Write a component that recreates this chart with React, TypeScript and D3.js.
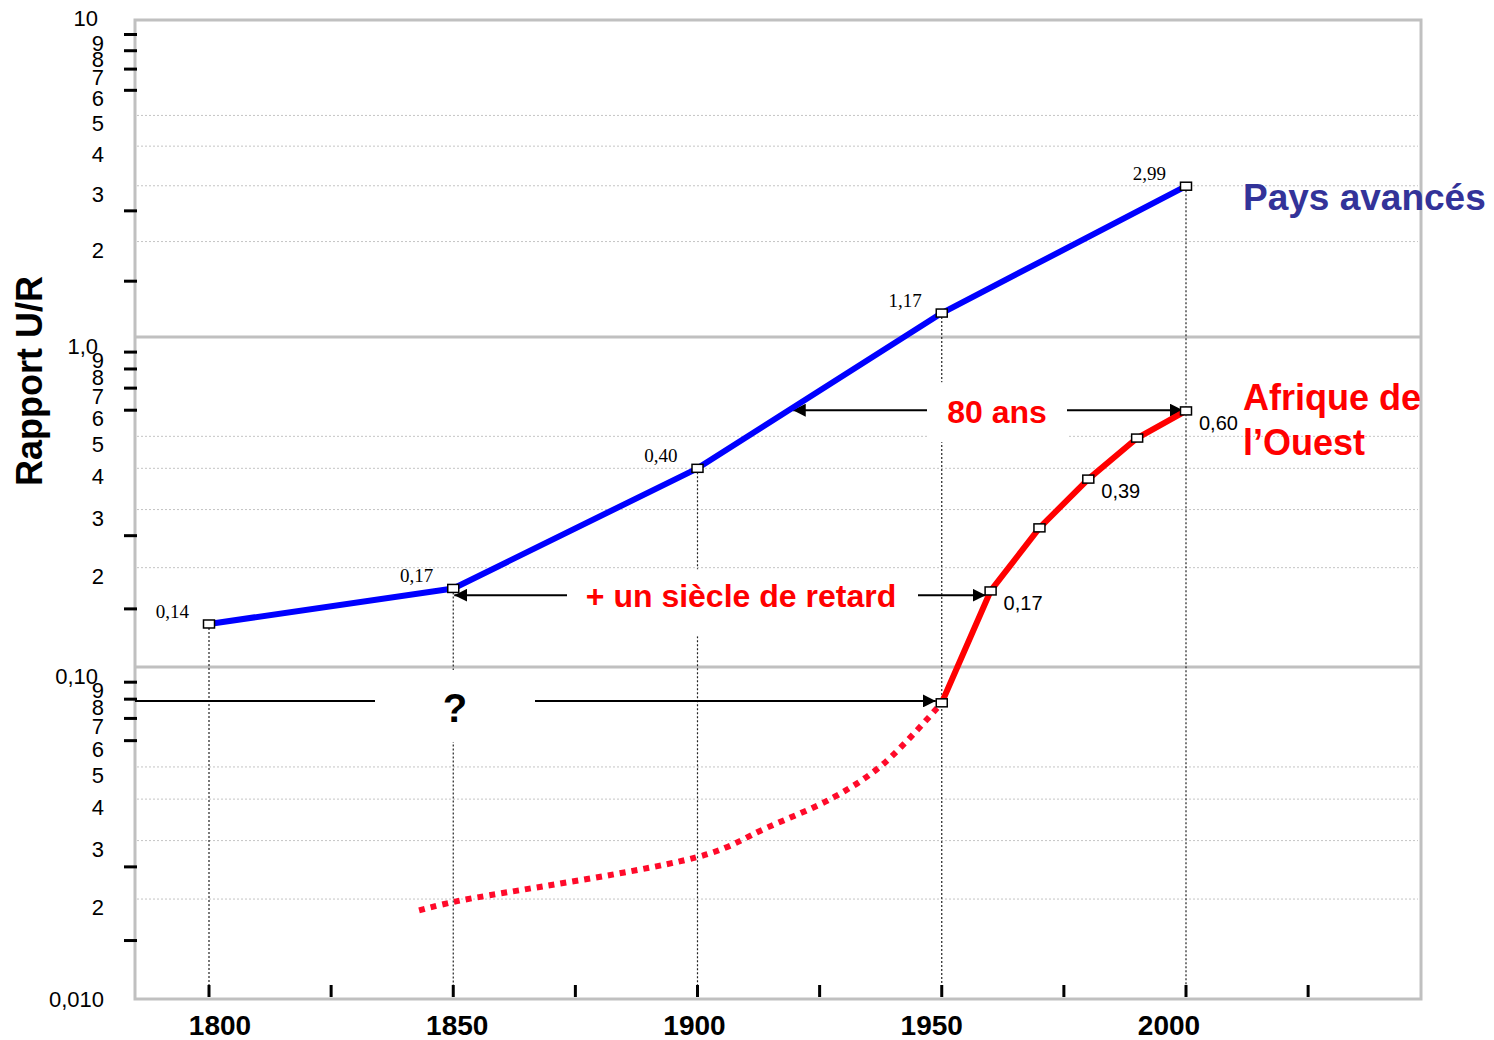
import React from 'react';
import * as d3 from 'd3';

const W = 1494;
const H = 1040;

// Pays avancés
const advYears = [1800, 1850, 1900, 1950, 2000];
const advValues = [0.135, 0.173, 0.4, 1.19, 2.99];
const advLabels = ['0,14', '0,17', '0,40', '1,17', '2,99'];

// Afrique de l'Ouest (observed)
const afrYears = [1950, 1960, 1970, 1980, 1990, 2000];
const afrValues = [0.078, 0.17, 0.264, 0.371, 0.494, 0.597];
const afrLabels = ['', '0,17', '', '0,39', '', '0,60'];

// Afrique de l'Ouest (estimated, dotted)
const afrEstYears = [1843, 1850, 1902, 1914, 1928, 1938, 1950];
const afrEstValues = [0.0185, 0.0196, 0.0273, 0.0327, 0.0406, 0.051, 0.078];

const xTickYears = [1800, 1825, 1850, 1875, 1900, 1925, 1950, 1975, 2000, 2025];
const xLabelYears = [1800, 1850, 1900, 1950, 2000];
const dropYears = [1800, 1850, 1900, 1950, 2000];

const decadeValues = [0.01, 0.1, 1, 10];
const decadeLabels = ['0,010', '0,10', '1,0', '10'];
const decadeBases = [0.01, 0.1, 1];
const minorDigits = [2, 3, 4, 5, 6, 7, 8, 9];
const gridDigits = [2, 3, 4, 5];
const tickMults = [1.5, 2.5, 6, 7, 8, 9];

const SANS = "'Liberation Sans', Arial, Helvetica, sans-serif";
const SERIF = "'Liberation Serif', 'Times New Roman', serif";

export default function App() {
  const left = 135;
  const right = 1421;
  const top = 20;
  const bottom = 999;

  const x = d3.scaleLinear().domain([1800, 2000]).range([209, 1186]);
  const xLab = d3.scaleLinear().domain([1800, 2000]).range([220, 1169]);
  const y = d3.scaleLog().domain([0.01, 0.1, 1, 10]).range([999, 667, 337, 20]);

  const line = d3
    .line<[number, number]>()
    .x((d) => x(d[0]))
    .y((d) => y(d[1]));
  const curve = d3
    .line<[number, number]>()
    .x((d) => x(d[0]))
    .y((d) => y(d[1]))
    .curve(d3.curveCatmullRom.alpha(0.5));

  const advPts: [number, number][] = advYears.map((yr, i) => [yr, advValues[i]]);
  const afrPts: [number, number][] = afrYears.map((yr, i) => [yr, afrValues[i]]);
  const estPts: [number, number][] = afrEstYears.map((yr, i) => [yr, afrEstValues[i]]);

  const advAt = (yr: number) => advValues[advYears.indexOf(yr)];

  // annotation arrows (in data units)
  const a80y = y(0.6);
  const a80x1 = x(1919.5);
  const a80x2 = x(2000) - 3;
  const asy = y(0.165);
  const asx1 = x(1850) + 1;
  const asx2 = x(1959);
  const aqy = y(0.079);
  const aqx2 = x(1950) - 6;

  const gridLines: number[] = [];
  decadeBases.forEach((b) => gridDigits.forEach((d) => gridLines.push(d * b)));
  const tickVals: number[] = [];
  decadeBases.forEach((b) => tickMults.forEach((m) => tickVals.push(m * b)));
  const minorLabels: { v: number; t: string }[] = [];
  decadeBases.forEach((b) => minorDigits.forEach((d) => minorLabels.push({ v: d * b, t: String(d) })));

  return (
    <div style={{ position: 'absolute', left: 0, top: 0 }}>
      <svg width={W} height={H} style={{ display: 'block', background: '#fff' }}>
        <defs>
          <marker
            id="ah"
            viewBox="0 0 10 10"
            refX="10"
            refY="5"
            markerWidth="13"
            markerHeight="13"
            markerUnits="userSpaceOnUse"
            orient="auto-start-reverse"
          >
            <path d="M0,0 L10,5 L0,10 z" fill="#000" />
          </marker>
        </defs>

        {/* dotted gridlines */}
        {gridLines.map((v, i) => (
          <line
            key={'g' + i}
            x1={left + 2}
            x2={right - 3}
            y1={y(v)}
            y2={y(v)}
            stroke="#c4c4c4"
            strokeWidth={1}
            strokeDasharray="2,2"
          />
        ))}

        {/* decade lines */}
        {[0.1, 1].map((v) => (
          <line key={'d' + v} x1={left} x2={right} y1={y(v)} y2={y(v)} stroke="#c0c0c0" strokeWidth={3} />
        ))}

        {/* vertical drop lines */}
        {dropYears.map((yr) => (
          <line
            key={'v' + yr}
            x1={x(yr)}
            x2={x(yr)}
            y1={y(advAt(yr))}
            y2={985}
            stroke="#222"
            strokeWidth={1.2}
            strokeDasharray="2,2"
          />
        ))}

        {/* frame */}
        <rect x={left} y={top} width={right - left} height={bottom - top} fill="none" stroke="#c0c0c0" strokeWidth={3} />

        {/* y ticks */}
        {tickVals.map((v, i) => (
          <line key={'t' + i} x1={124} x2={137} y1={y(v)} y2={y(v)} stroke="#000" strokeWidth={3} />
        ))}
        {/* x ticks */}
        {xTickYears.map((yr) => (
          <line key={'xt' + yr} x1={x(yr)} x2={x(yr)} y1={985} y2={997} stroke="#000" strokeWidth={3} />
        ))}

        {/* y labels */}
        {minorLabels.map((m, i) => (
          <text key={'ml' + i} x={104} y={y(m.v) + 16} textAnchor="end" fontFamily={SANS} fontSize={22} fill="#000">
            {m.t}
          </text>
        ))}
        {decadeValues.map((v, i) => (
          <text
            key={'dl' + i}
            x={v === 0.01 ? 104 : 98}
            y={y(v) + (v === 0.01 ? 8 : v === 10 ? 6 : 17)}
            textAnchor="end"
            fontFamily={SANS}
            fontSize={22}
            fill="#000"
          >
            {decadeLabels[i]}
          </text>
        ))}

        {/* x labels */}
        {xLabelYears.map((yr) => (
          <text key={'xl' + yr} x={xLab(yr)} y={1035} textAnchor="middle" fontFamily={SANS} fontWeight="bold" fontSize={28} fill="#000">
            {yr}
          </text>
        ))}

        {/* y title */}
        <text
          transform="translate(42,381) rotate(-90)"
          textAnchor="middle"
          fontFamily={SANS}
          fontWeight="bold"
          fontSize={36}
          fill="#000"
        >
          Rapport U/R
        </text>

        {/* arrows */}
        <line x1={a80x1} x2={a80x2} y1={a80y} y2={a80y} stroke="#000" strokeWidth={2} markerStart="url(#ah)" markerEnd="url(#ah)" />
        <line x1={asx1} x2={asx2} y1={asy} y2={asy} stroke="#000" strokeWidth={2} markerStart="url(#ah)" markerEnd="url(#ah)" />
        <line x1={left} x2={aqx2} y1={aqy} y2={aqy} stroke="#000" strokeWidth={2} markerEnd="url(#ah)" />

        {/* text boxes */}
        <rect x={927} y={a80y - 28} width={140} height={60} fill="#fff" />
        <rect x={567} y={asy - 26} width={351} height={67} fill="#fff" />
        <rect x={375} y={aqy - 31} width={160} height={72} fill="#fff" />

        <text x={997} y={a80y + 13} textAnchor="middle" fontFamily={SANS} fontWeight="bold" fontSize={32} fill="#ff0000">
          80 ans
        </text>
        <text x={741} y={asy + 12} textAnchor="middle" fontFamily={SANS} fontWeight="bold" fontSize={32} fill="#ff0000">
          + un siècle de retard
        </text>
        <text x={455} y={aqy + 21} textAnchor="middle" fontFamily={SANS} fontWeight="bold" fontSize={40} fill="#000">
          ?
        </text>

        {/* data lines */}
        <path d={curve(estPts) || ''} fill="none" stroke="#ff0a2a" strokeWidth={6} strokeDasharray="6,6" />
        <path d={line(afrPts) || ''} fill="none" stroke="#ff0000" strokeWidth={6} strokeLinejoin="round" />
        <path d={line(advPts) || ''} fill="none" stroke="#0000ff" strokeWidth={6} strokeLinejoin="round" />

        {/* markers */}
        {advPts.map((p, i) => (
          <rect key={'am' + i} x={x(p[0]) - 5.5} y={y(p[1]) - 4} width={11} height={8} fill="#fff" stroke="#000" strokeWidth={1.5} />
        ))}
        {afrPts.map((p, i) => (
          <rect key={'fm' + i} x={x(p[0]) - 5.5} y={y(p[1]) - 4} width={11} height={8} fill="#fff" stroke="#000" strokeWidth={1.5} />
        ))}

        {/* data labels */}
        {advPts.map((p, i) => (
          <text key={'al' + i} x={x(p[0]) - 20} y={y(p[1]) - 6} textAnchor="end" fontFamily={SERIF} fontSize={19} fill="#000">
            {advLabels[i]}
          </text>
        ))}
        {afrPts.map((p, i) =>
          afrLabels[i] ? (
            <text key={'fl' + i} x={x(p[0]) + 13} y={y(p[1]) + 19} textAnchor="start" fontFamily={SANS} fontSize={20} fill="#000">
              {afrLabels[i]}
            </text>
          ) : null
        )}

        {/* series names */}
        <text x={1243} y={210} fontFamily={SANS} fontWeight="bold" fontSize={37} fill="#333399">
          Pays avancés
        </text>
        <text x={1243} y={410} fontFamily={SANS} fontWeight="bold" fontSize={36} fill="#ff0000">
          Afrique de
        </text>
        <text x={1243} y={455} fontFamily={SANS} fontWeight="bold" fontSize={36} fill="#ff0000">
          l’Ouest
        </text>
      </svg>
    </div>
  );
}
